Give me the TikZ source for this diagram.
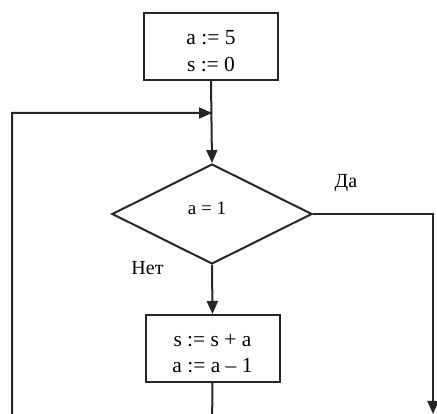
\documentclass[tikz,border=0pt]{standalone}
\usepackage{fontspec}
\setmainfont{Liberation Serif}
\usetikzlibrary{shapes.geometric,arrows.meta}
\begin{document}
\begin{tikzpicture}[x=1pt,y=-1pt,
  line/.style={draw=black!85, line width=2pt},
  arr/.style={line, -{Triangle[length=13pt,width=11pt]}},
  block/.style={line, rectangle, minimum width=134pt, minimum height=67pt, inner sep=0pt},
  txt/.style={align=center, inner sep=0pt, anchor=base, font=\fontsize{21.5}{27}\selectfont},
  cond/.style={line, diamond, minimum width=200pt, minimum height=100pt, inner sep=0pt},
  lbl/.style={font=\fontsize{20}{22}\selectfont, inner sep=0pt, anchor=base}]
\useasboundingbox (0,0) rectangle (437,414);
\clip (0,0) rectangle (437,414);
\node[block] (init) at (211,46.5) {};
\node[txt] (initA) at (211,45) {a := 5};
\node[txt] (initB) at (211,72) {s := 0};
\node[cond] (test) at (212,214) {};
\node[txt, font=\fontsize{19}{22}\selectfont] (testT) at (207,215) {a = 1};
\node[block] (body) at (212.5,348.5) {};
\node[txt] (bodyA) at (212.5,347) {s := s + a};
\node[txt] (bodyB) at (212.5,373) {a := a -- 1};
\node[lbl] (yes) at (346,188) {Да};
\node[lbl] (no) at (147.5,275) {Нет};
\coordinate (merge) at (212,113);
\coordinate (bl) at (12,430);
\coordinate (bm) at (212,430);
\coordinate (yr) at (433,214);
\coordinate (ye) at (433,414);
\draw[arr] (init.south) -- (test.north);
\draw[arr] (test.south) -- (body.north);
\draw[line] (body.south) -- (bm) -- (bl) -- (12,113) -- (merge);
\draw[arr] (12,113) -- (merge);
\draw[arr] (test.east) -- (yr) -- (ye);
\end{tikzpicture}
\end{document}
